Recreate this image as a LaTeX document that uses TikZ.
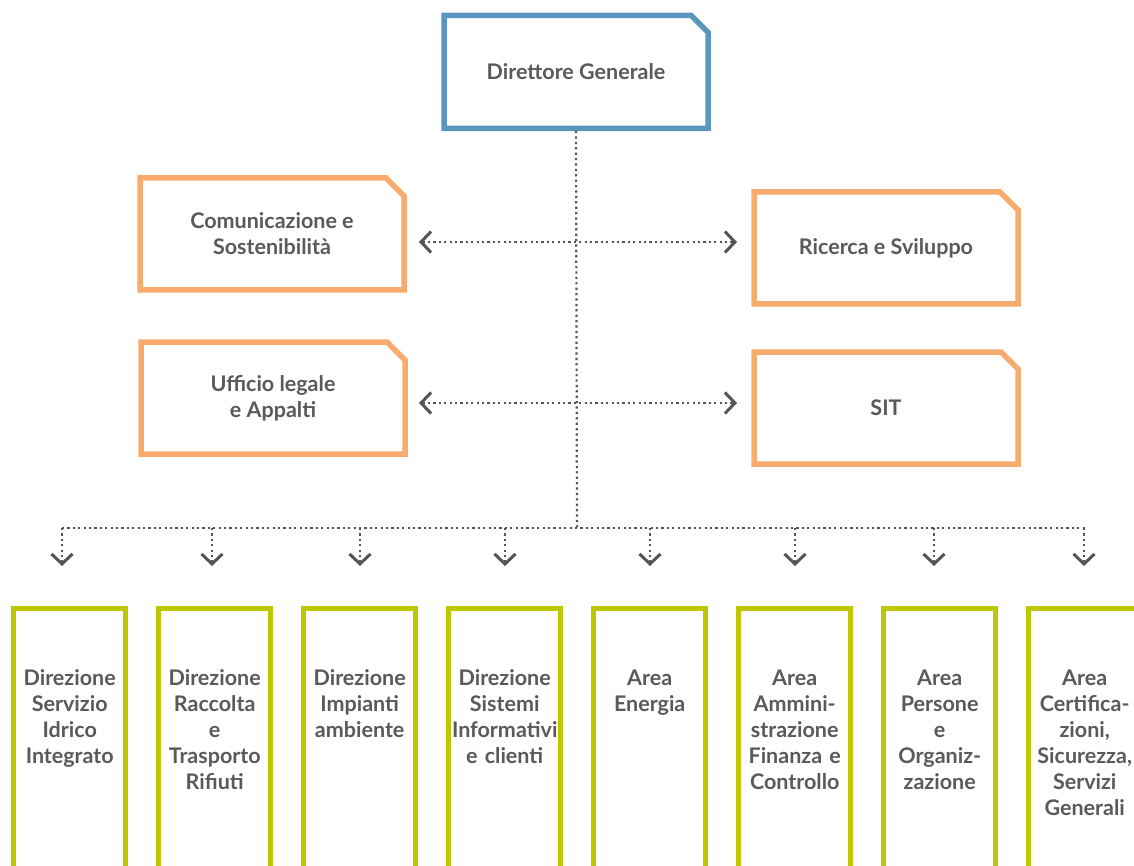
\documentclass[tikz,border=0pt]{standalone}
\usepackage{fontspec}
\setmainfont{Lato}
\usetikzlibrary{shapes.misc,arrows.meta}

\definecolor{blu}{RGB}{91,151,189}
\definecolor{arancio}{RGB}{247,172,110}
\definecolor{verde}{RGB}{189,200,0}
\definecolor{grigio}{RGB}{90,90,90}
\definecolor{puntini}{RGB}{85,85,85}

\begin{document}
\begin{tikzpicture}[x=1pt,y=-1pt,
	box/.style={chamfered rectangle,chamfered rectangle corners=north east,
		chamfered rectangle xsep=9pt,chamfered rectangle ysep=9pt,
		line width=5.5pt,fill=white,inner sep=0pt,text=grigio,align=center,
		font=\bfseries\fontsize{21.5}{26}\selectfont},
	capo/.style={box,draw=blu,minimum width=264pt,minimum height=113pt},
	staff/.style={box,draw=arancio,minimum width=264pt,minimum height=112pt},
	area/.style={box,draw=verde,minimum width=112pt,minimum height=300pt,anchor=north},
	areatxt/.style={anchor=base,text width=130pt,align=center,inner sep=0pt,text=grigio,
		font=\bfseries\fontsize{21.5}{26}\selectfont},
	dots/.style={puntini,line width=2.2pt,dash pattern=on 2.2pt off 3.2pt},
	freccia/.style={dots,-{Straight Barb[length=10pt,width=21pt,line width=3pt]}},
	doppia/.style={dots,{Straight Barb[length=10pt,width=21pt,line width=3pt]}-{Straight Barb[length=10pt,width=21pt,line width=3pt]}}]

	\useasboundingbox (0,0) rectangle (1134,866);
	\clip (0,0) rectangle (1134,866);

	% vertici e staff
	\node[capo] (dg) at (576,71.8) {Direttore Generale};
	\node[staff] (com) at (272,234) {Comunicazione e\\Sostenibilità};
	\node[staff] (rs) at (886,248) {Ricerca e Sviluppo};
	\node[staff] (leg) at (273,398) {Ufficio legale\\e Appalti};
	\node[staff] (sit) at (886,408) {SIT};

	% linea principale
	\coordinate (nodo) at (577,528);
	\coordinate (bus1) at (62,528);
	\coordinate (bus8) at (1085,528);
	\draw[dots] (dg.south) -- (nodo);
	\draw[dots] (bus1) -- (bus8);

	% frecce verso lo staff
	\coordinate (s1) at (419,242);
	\coordinate (s2) at (737,242);
	\coordinate (s3) at (419,403);
	\coordinate (s4) at (737,403);
	\draw[doppia] (s1) -- (s2);
	\draw[doppia] (s3) -- (s4);

	% direzioni e aree
	\node[area] (d1) at (69.7,605.5) {};
	\node[area] (d2) at (214.7,605.5) {};
	\node[area] (d3) at (359.7,605.5) {};
	\node[area] (d4) at (504.7,605.5) {};
	\node[area] (d5) at (649.7,605.5) {};
	\node[area] (d6) at (794.7,605.5) {};
	\node[area] (d7) at (939.7,605.5) {};
	\node[area] (d8) at (1084.7,605.5) {};

	\node[areatxt] (t1) at (69.7,685) {Direzione\\Servizio\\Idrico\\Integrato};
	\node[areatxt] (t2) at (214.7,685) {Direzione\\Raccolta\\e\\Trasporto\\Rifiuti};
	\node[areatxt] (t3) at (359.7,685) {Direzione\\Impianti\\ambiente};
	\node[areatxt] (t4) at (504.7,685) {Direzione\\Sistemi\\Informativi\\e clienti};
	\node[areatxt] (t5) at (649.7,685) {Area\\Energia};
	\node[areatxt] (t6) at (794.7,685) {Area\\Ammini-\\strazione\\Finanza e\\Controllo};
	\node[areatxt] (t7) at (939.7,685) {Area\\Persone\\e\\Organiz-\\zazione};
	\node[areatxt] (t8) at (1084.7,685) {Area\\Certifica-\\zioni,\\Sicurezza,\\Servizi\\Generali};

	% frecce verso le aree
	\coordinate (a1) at (62,528);
	\coordinate (a2) at (212,528);
	\coordinate (a3) at (360,528);
	\coordinate (a4) at (505,528);
	\coordinate (a5) at (650,528);
	\coordinate (a6) at (795,528);
	\coordinate (a7) at (934,528);
	\coordinate (a8) at (1084,528);
	\draw[freccia] (a1) -- (62,566);
	\draw[freccia] (a2) -- (212,566);
	\draw[freccia] (a3) -- (360,566);
	\draw[freccia] (a4) -- (505,566);
	\draw[freccia] (a5) -- (650,566);
	\draw[freccia] (a6) -- (795,566);
	\draw[freccia] (a7) -- (934,566);
	\draw[freccia] (a8) -- (1084,566);
\end{tikzpicture}
\end{document}
